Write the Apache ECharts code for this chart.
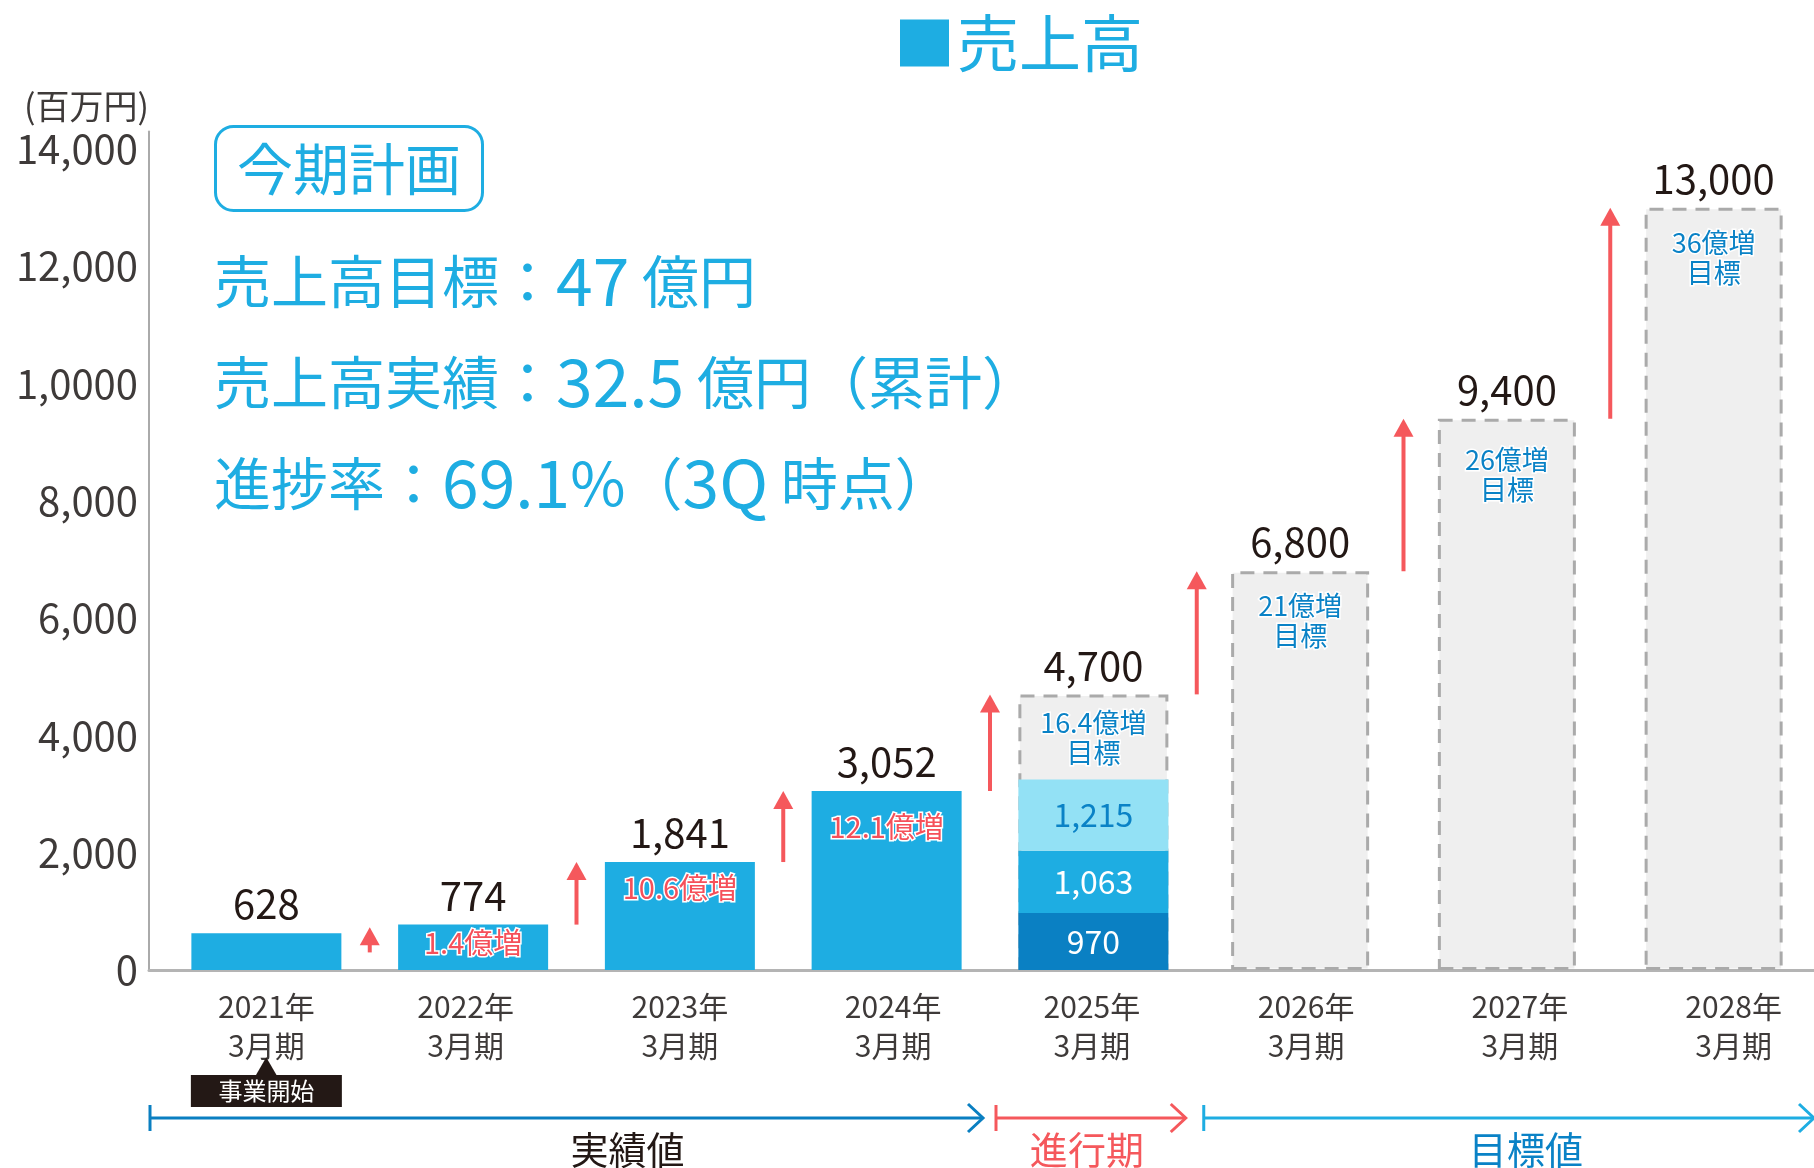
<!DOCTYPE html>
<html><head><meta charset="utf-8">
<script src="https://cdn.jsdelivr.net/npm/echarts/dist/echarts.min.js"></script>
<style>html,body{margin:0;padding:0;background:#fff}#c{width:1814px;height:1168px}</style>
</head><body><div id="c"></div>
<script>
// ---- data ----
const years = ['2021年','2022年','2023年','2024年','2025年','2026年','2027年','2028年'];
const periodSuffix = '3月期';
const actualSales = [628, 774, 1841, 3052, null, null, null, null];
const q1Sales2025 = [null, null, null, null, 970, null, null, null];
const q2Sales2025 = [null, null, null, null, 1063, null, null, null];
const q3Sales2025 = [null, null, null, null, 1215, null, null, null];
const targetSales = [null, null, null, null, 4700, 6800, 9400, 13000];
const growthText = ['', '1.4億増', '10.6億増', '12.1億増', '16.4億増\n目標', '21億増\n目標', '26億増\n目標', '36億増\n目標'];
const arrowFrom = [300, 774, 1841, 3052, 4700, 6800, 9400];
const arrowTo = [730, 1841, 3052, 4700, 6800, 9400, 13000];
const yTickLabels = ['0', '2,000', '4,000', '6,000', '8,000', '1,0000', '12,000', '14,000'];
const periodNames = ['実績値', '進行期', '目標値'];
const periodStart = [0, 4, 5];
const periodEnd = [3, 4, 7];

// ---- style ----
const FONT = '"Noto Sans CJK JP", "Noto Sans", sans-serif';
const BLUE = '#1EADE2', DARK = '#0A80C3', LIGHT = '#93E1F5', RED = '#F5585C', INK = '#231815', GRAYTXT = '#3E3A39';
const growthDist = [0, 3, 11, 21, 13, 20, 26, 20];
const tlColors = ['#0A7FC1', RED, BLUE];
const tlTextColors = [INK, RED, '#0A82C6'];
const tlInsetStart = [-13, 6, 7];
const tlInsetEnd = [-7, -11, -3];
const tlLabelDx = [61, -4, 17];
const xLabelDx = [0, -7.5, 0, 6.5, -1.5, 6, 13, 20];

const fmt = v => Number(v).toLocaleString('en-US');
const only = (arr, idx) => arr.map((v, i) => (idx.includes(i) && v != null) ? v : '-');

const dashed = { color: '#EFEFEF', borderColor: '#AAAAAA', borderWidth: 3, borderType: [14, 9] };
const topLabel = { show: true, position: 'top', distance: 9, fontSize: 40, color: INK, fontFamily: FONT, formatter: p => fmt(p.value) };
const growthLabel = (color, size) => ({
  show: true, position: 'insideTop', fontSize: size, lineHeight: 30, color: color, fontFamily: FONT,
  textBorderColor: '#fff', textBorderWidth: 3, formatter: p => growthText[p.dataIndex]
});
const overlayData = (src, idx) => src.map((v, i) => (idx.includes(i) && v != null) ?
  { value: v, label: { distance: growthDist[i] } } : '-');

const xRich = {
  tri: { fontSize: 28, lineHeight: 10, color: INK, fontFamily: FONT },
  tag: { fontSize: 24, lineHeight: 32, height: 32, width: 151, align: 'center', color: '#fff', backgroundColor: INK, fontFamily: FONT }
};
xLabelDx.forEach((dx, i) => {
  xRich['l' + i] = { fontSize: 30, lineHeight: 39, color: GRAYTXT, fontFamily: FONT,
    padding: dx >= 0 ? [0, 0, 0, 2 * dx] : [0, -2 * dx, 0, 0] };
});

const textRich = {
  c: { fontSize: 57, lineHeight: 70, color: BLUE, fontFamily: FONT, fontWeight: 'normal', verticalAlign: 'middle' },
  d: { fontSize: 66, lineHeight: 70, color: BLUE, fontFamily: FONT, fontWeight: 'normal', verticalAlign: 'middle' },
  p: { fontSize: 60, lineHeight: 70, color: BLUE, fontFamily: FONT, fontWeight: 'normal', verticalAlign: 'middle' }
};

const chart = echarts.init(document.getElementById('c'), null, { renderer: 'canvas' });
const gridTop = 131.4, gridBottom = 198;

const option = {
  animation: false,
  backgroundColor: '#fff',
  textStyle: { fontFamily: FONT },
  title: [
    { text: '{sq| }{t|売上高}', left: 900, top: 10, padding: 0,
      textStyle: { rich: {
        sq: { width: 49, height: 47, backgroundColor: BLUE, verticalAlign: 'middle' },
        t: { fontSize: 62, lineHeight: 66, color: BLUE, fontFamily: FONT, fontWeight: 'normal', padding: [0, 0, 0, 8], verticalAlign: 'middle' } } } },
    { text: '今期計画', left: 215, top: 126, padding: [13, 22, 12, 22], borderColor: BLUE, borderWidth: 3, borderRadius: 18,
      textStyle: { fontSize: 56, lineHeight: 60, color: BLUE, fontFamily: FONT, fontWeight: 'normal' } },
    { text: '{c|売上高目標：}{d|47}{c| 億円}', left: 214, top: 246, padding: 0, textStyle: { rich: textRich } },
    { text: '{c|売上高実績：}{d|32.5}{c| 億円（累計）}', left: 214, top: 347, padding: 0, textStyle: { rich: textRich } },
    { text: '{c|進捗率：}{d|69.1}{p|%}{c|（}{d|3Q}{c| 時点）}', left: 214, top: 448, padding: 0, textStyle: { rich: textRich } }
  ],
  grid: [
    { left: 149, right: 0, top: gridTop, bottom: gridBottom, outerBoundsMode: 'none', containLabel: false },
    { left: 163, right: -3, top: gridTop, bottom: gridBottom, outerBoundsMode: 'none', containLabel: false }
  ],
  xAxis: [
    { type: 'category', gridIndex: 1, data: years, axisLine: { show: false }, axisTick: { show: false },
      axisLabel: { interval: 0, fontSize: 30, lineHeight: 39, color: GRAYTXT, margin: 17, fontFamily: FONT,
        formatter: (v, i) => {
          const s = '{l' + i + '|' + v + '}\n{l' + i + '|' + periodSuffix + '}';
          return i === 0 ? s + '\n{tri|▲}\n{tag|事業開始}' : s;
        },
        rich: xRich } },
    { type: 'category', gridIndex: 1, data: years, show: false },
    { type: 'category', gridIndex: 1, data: years, show: false },
    { type: 'value', gridIndex: 0, min: 0, max: 1, axisLine: { show: true, onZero: false, lineStyle: { color: '#B4B4B4', width: 3 } },
      axisLabel: { show: false }, axisTick: { show: false }, splitLine: { show: false } }
  ],
  yAxis: [
    { type: 'value', gridIndex: 0, min: 0, max: 14300, interval: 2000,
      axisLine: { show: true, onZero: false, lineStyle: { color: '#AAAAAA', width: 2 } }, axisTick: { show: false }, splitLine: { show: false },
      axisLabel: { fontSize: 40, color: GRAYTXT, margin: 11, fontFamily: FONT,
        formatter: v => (v % 2000 === 0 && yTickLabels[v / 2000] !== undefined) ? yTickLabels[v / 2000] : '' },
      name: '(百万円)', nameLocation: 'end', nameGap: 8,
      nameTextStyle: { fontSize: 34, color: GRAYTXT, align: 'right', fontFamily: FONT } },
    { type: 'value', gridIndex: 1, min: 0, max: 14300, show: false }
  ],
  series: [
    { type: 'bar', name: 'target2025', xAxisIndex: 1, yAxisIndex: 1, barWidth: 150, barGap: '-100%', z: 1,
      data: only(targetSales, [4]), itemStyle: dashed, label: topLabel },
    { type: 'bar', name: 'target2025lbl', xAxisIndex: 1, yAxisIndex: 1, barWidth: 150, barGap: '-100%', z: 5,
      data: overlayData(targetSales, [4]), itemStyle: { color: 'rgba(0,0,0,0)' }, label: growthLabel('#0A82C6', 27) },
    { type: 'bar', name: 'targetFuture', xAxisIndex: 2, yAxisIndex: 1, barWidth: 138, barGap: '-100%', z: 1,
      data: only(targetSales, [5, 6, 7]), itemStyle: dashed, label: topLabel },
    { type: 'bar', name: 'targetFutureLbl', xAxisIndex: 2, yAxisIndex: 1, barWidth: 138, barGap: '-100%', z: 5,
      data: overlayData(targetSales, [5, 6, 7]), itemStyle: { color: 'rgba(0,0,0,0)' }, label: growthLabel('#0A82C6', 27) },
    { type: 'bar', name: 'actual', xAxisIndex: 0, yAxisIndex: 1, stack: 'a', barWidth: 150, barGap: '-100%', z: 2,
      data: actualSales.map(v => v == null ? '-' : v), itemStyle: { color: BLUE }, label: topLabel },
    { type: 'bar', name: 'q1', xAxisIndex: 0, yAxisIndex: 1, stack: 'a', barWidth: 150, barGap: '-100%', z: 2,
      data: q1Sales2025.map(v => v == null ? '-' : v), itemStyle: { color: DARK },
      label: { show: true, position: 'inside', fontSize: 32, color: '#fff', fontFamily: FONT, formatter: p => fmt(p.value) } },
    { type: 'bar', name: 'q2', xAxisIndex: 0, yAxisIndex: 1, stack: 'a', barWidth: 150, barGap: '-100%', z: 2,
      data: q2Sales2025.map(v => v == null ? '-' : v), itemStyle: { color: BLUE },
      label: { show: true, position: 'inside', fontSize: 32, color: '#fff', fontFamily: FONT, formatter: p => fmt(p.value) } },
    { type: 'bar', name: 'q3', xAxisIndex: 0, yAxisIndex: 1, stack: 'a', barWidth: 150, barGap: '-100%', z: 2,
      data: q3Sales2025.map(v => v == null ? '-' : v), itemStyle: { color: LIGHT },
      label: { show: true, position: 'inside', fontSize: 32, color: '#0A82C6', fontFamily: FONT, formatter: p => fmt(p.value) } },
    { type: 'bar', name: 'growthLbl', xAxisIndex: 0, yAxisIndex: 1, barWidth: 150, barGap: '-100%', z: 5,
      data: overlayData(actualSales, [1, 2, 3]), itemStyle: { color: 'rgba(0,0,0,0)' }, label: growthLabel('#F5505A', 29) },
    { type: 'custom', name: 'arrows', xAxisIndex: 0, yAxisIndex: 1, z: 6, silent: true,
      data: arrowFrom.map((v, i) => [i, v, arrowTo[i]]),
      encode: { x: 0, y: [1, 2] },
      renderItem: (params, api) => {
        const i = api.value(0);
        const a = api.coord([i, api.value(1)]);
        const b = api.coord([i + 1, api.value(2)]);
        const x = (a[0] + b[0]) / 2;
        const headH = 18, headW = 20;
        return { type: 'group', children: [
          { type: 'rect', shape: { x: x - 2, y: b[1] + headH - 1, width: 4, height: Math.max(0, a[1] - b[1] - headH + 1) }, style: { fill: RED } },
          { type: 'polygon', shape: { points: [[x - headW / 2, b[1] + headH], [x + headW / 2, b[1] + headH], [x, b[1]]] }, style: { fill: RED } }
        ] };
      } },
    { type: 'custom', name: 'timeline', xAxisIndex: 0, yAxisIndex: 1, z: 6, silent: true, clip: false,
      data: periodStart.map((s, i) => [s, 0, periodEnd[i]]),
      encode: { x: 0, y: 1 },
      renderItem: (params, api) => {
        const i = params.dataIndex;
        const band = api.size([1, 0])[0];
        const y = api.coord([0, 0])[1] + 148;
        const x0 = api.coord([periodStart[i], 0])[0] - band / 2 + tlInsetStart[i];
        const x1 = api.coord([periodEnd[i], 0])[0] + band / 2 + tlInsetEnd[i];
        const c = tlColors[i];
        return { type: 'group', children: [
          { type: 'line', shape: { x1: x0, y1: y - 13, x2: x0, y2: y + 13 }, style: { stroke: c, lineWidth: 3 } },
          { type: 'line', shape: { x1: x0, y1: y, x2: x1, y2: y }, style: { stroke: c, lineWidth: 3 } },
          { type: 'polyline', shape: { points: [[x1 - 15, y - 14], [x1, y], [x1 - 15, y + 14]] }, style: { stroke: c, lineWidth: 3, fill: null } },
          { type: 'text', x: (x0 + x1) / 2 + tlLabelDx[i], y: y + 32,
            style: { text: periodNames[i], fill: tlTextColors[i], fontSize: 38, fontFamily: FONT, align: 'center', verticalAlign: 'middle' } }
        ] };
      } }
  ]
};
chart.setOption(option);
</script>
</body></html>
